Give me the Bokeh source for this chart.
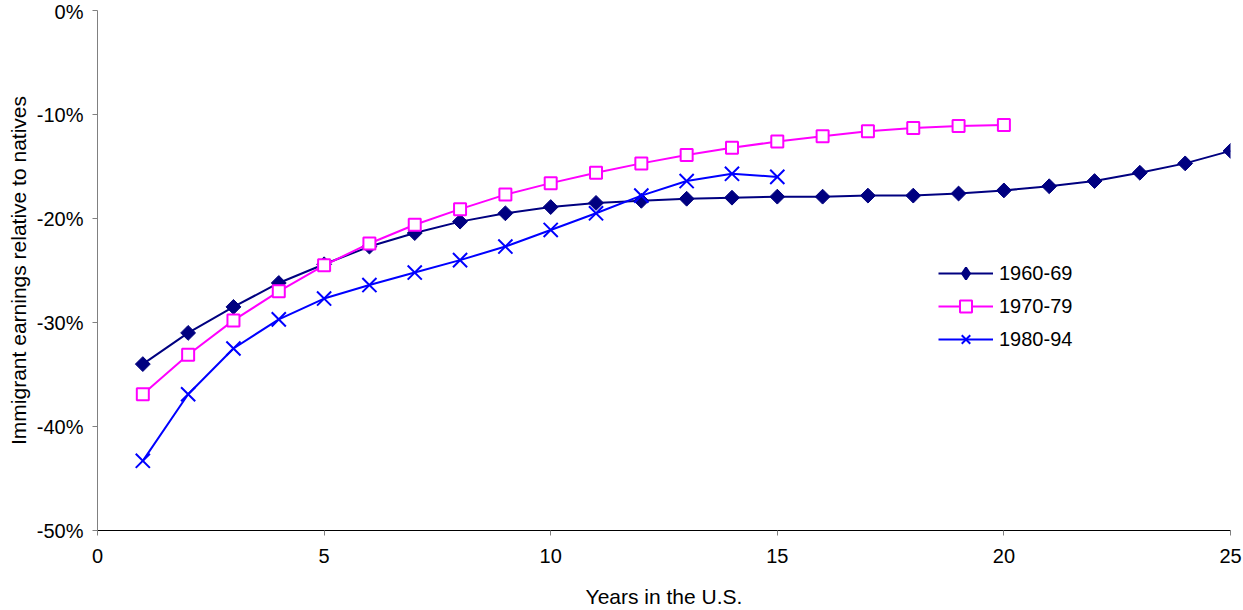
import math
from bokeh.plotting import figure
from bokeh.models import Range1d, FixedTicker, PrintfTickFormatter, Legend, LegendItem, ColumnDataSource
from bokeh.embed import file_html
from bokeh.resources import INLINE

years = list(range(1, 26))
cohort_labels = ["1960-69", "1970-79", "1980-94"]

earn_1960 = [-34.0, -31.0, -28.5, -26.2, -24.4, -22.7, -21.4, -20.3, -19.5, -18.9,
             -18.5, -18.3, -18.1, -18.0, -17.9, -17.9, -17.8, -17.8, -17.6, -17.3,
             -16.9, -16.4, -15.6, -14.7, -13.5]
earn_1970 = [-36.9, -33.1, -29.8, -27.0, -24.5, -22.4, -20.6, -19.1, -17.7, -16.6,
             -15.6, -14.7, -13.9, -13.2, -12.6, -12.1, -11.6, -11.3, -11.1, -11.0]
earn_1980 = [-43.3, -36.9, -32.5, -29.7, -27.7, -26.4, -25.2, -24.0, -22.7, -21.1,
             -19.5, -17.8, -16.4, -15.7, -16.0]

x_ticks = [0, 5, 10, 15, 20, 25]
y_ticks = [-50, -40, -30, -20, -10, 0]

FONT = "Liberation Sans"

p = figure(width=1243, height=610, output_backend="svg", toolbar_location=None,
           x_range=Range1d(0, 25), y_range=Range1d(-50, 0),
           min_border_left=97, min_border_right=13, min_border_top=10, min_border_bottom=80)
p.outline_line_color = None
p.xgrid.visible = False
p.ygrid.visible = False
p.background_fill_color = "white"
p.border_fill_color = "white"

for ax in (p.xaxis[0], p.yaxis[0]):
    ax.axis_line_color = "#808080"
    ax.major_tick_line_color = "#808080"
    ax.major_tick_out = 5
    ax.major_tick_in = 0
    ax.minor_tick_line_color = None
    ax.major_label_text_font = FONT
    ax.major_label_text_font_size = "20px"
    ax.major_label_text_color = "black"
    ax.axis_label_text_font = FONT
    ax.axis_label_text_font_size = "21px"
    ax.axis_label_text_font_style = "normal"
    ax.axis_label_text_color = "black"

p.xaxis[0].axis_line_color = "black"
p.xaxis.ticker = FixedTicker(ticks=x_ticks)
p.yaxis.ticker = FixedTicker(ticks=y_ticks)
p.yaxis.formatter = PrintfTickFormatter(format="%d%%")
p.xaxis.axis_label = "Years in the U.S."
p.yaxis.axis_label = "Immigrant earnings relative to natives"
p.xaxis.major_label_standoff = 13
p.xaxis.axis_label_standoff = 19
p.yaxis.major_label_standoff = 9
p.yaxis.axis_label_standoff = 4

navy = "#000080"
pink = "#FF00FF"
blue = "#0000FF"

l1 = p.line(years[:len(earn_1960)], earn_1960, line_color=navy, line_width=2)
m1 = p.scatter(years[:len(earn_1960)], earn_1960, marker="square", size=10.5,
               angle=math.pi / 4, fill_color=navy, line_color=navy)
l2 = p.line(years[:len(earn_1970)], earn_1970, line_color=pink, line_width=2)
m2 = p.scatter(years[:len(earn_1970)], earn_1970, marker="square", size=12,
               fill_color="white", line_color=pink, line_width=2)
l3 = p.line(years[:len(earn_1980)], earn_1980, line_color=blue, line_width=2)
m3 = p.scatter(years[:len(earn_1980)], earn_1980, marker="x", size=20,
               line_color=blue, line_width=2)

# legend-only diamond (legend markers are drawn without rotation)
legend_src = ColumnDataSource(data=dict(x=[float("nan")], y=[float("nan")]))
d1 = p.scatter("x", "y", source=legend_src, marker="diamond", size=15,
               fill_color=navy, line_color=navy, line_width=2)

legend = Legend(items=[LegendItem(label=cohort_labels[0], renderers=[l1, d1]),
                       LegendItem(label=cohort_labels[1], renderers=[l2, m2]),
                       LegendItem(label=cohort_labels[2], renderers=[l3, m3])],
                location=(841, 176), glyph_width=55, glyph_height=30, spacing=3,
                padding=0, margin=0, label_standoff=6,
                label_text_font=FONT, label_text_font_size="20px",
                label_text_color="black",
                border_line_color=None, background_fill_alpha=0)
p.add_layout(legend, "center")

open("out.html", "w").write(file_html(p, INLINE))
